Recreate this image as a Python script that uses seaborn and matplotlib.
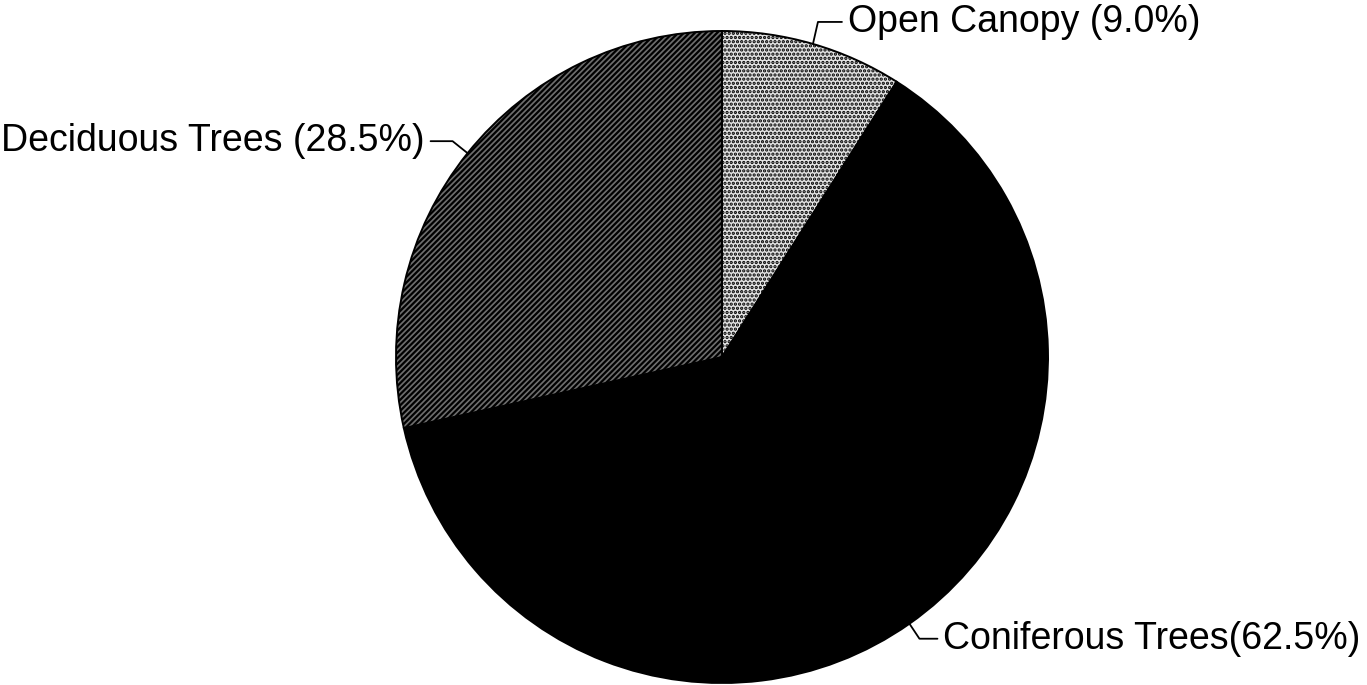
import numpy as np
import matplotlib
matplotlib.use("Agg")
import matplotlib.pyplot as plt
import seaborn as sns

# Land cover shares (percent), drawn clockwise from 12 o'clock
categories = ["Open Canopy", "Coniferous Trees", "Deciduous Trees"]
shares = [9.0, 62.5, 28.5]
label_texts = ["Open Canopy (9.0%)", "Coniferous Trees(62.5%)", "Deciduous Trees (28.5%)"]

sns.set_theme(style="white")
plt.rcParams["font.family"] = ["Liberation Sans", "DejaVu Sans"]
plt.rcParams["hatch.linewidth"] = 1.6

W, H = 1367, 685
fig = plt.figure(figsize=(W / 100, H / 100), dpi=100)
ax = fig.add_axes([0, 0, 1, 1])

center = (722, 328)
radius = 326

faces = ["#e2e2e2", "black", "#6e6e6e"]
hatches = ["....", None, "//////"]

wedges, _ = ax.pie(shares, startangle=90, counterclock=False, center=center,
                   radius=radius, colors=faces, frame=True,
                   wedgeprops=dict(edgecolor="black", linewidth=1.4))
for w, h in zip(wedges, hatches):
    if h:
        w.set_hatch(h)
ax.set_xlim(0, W)
ax.set_ylim(0, H)
ax.set_aspect("equal")
ax.axis("off")

# leader lines: from wedge mid-angle on the rim, short kink, then horizontal
# (kink dx, kink dy, horizontal length, text side)
leaders = {
    "Open Canopy": (5, 22, 24, "right"),
    "Coniferous Trees": (10, -15, 18, "right"),
    "Deciduous Trees": (-15, 12, -22, "left"),
}
for w, cat, txt in zip(wedges, categories, label_texts):
    mid = np.deg2rad((w.theta1 + w.theta2) / 2)
    x0 = center[0] + radius * np.cos(mid)
    y0 = center[1] + radius * np.sin(mid)
    kdx, kdy, hl, side = leaders[cat]
    x1, y1 = x0 + kdx, y0 + kdy
    x2 = x1 + hl
    ax.plot([x0, x1, x2], [y0, y1, y1], color="black", lw=1.3)
    if side == "right":
        ax.text(x2 + 6, y1, txt, ha="left", va="center", fontsize=27, color="black")
    else:
        ax.text(x2 - 6, y1, txt, ha="right", va="center", fontsize=27, color="black")

fig.savefig("out.png", dpi=100, facecolor="white")
